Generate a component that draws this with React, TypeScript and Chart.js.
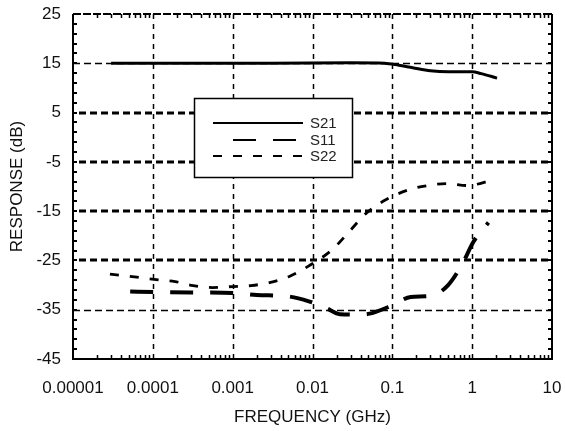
import React, { useEffect, useRef } from 'react';
import { Chart, registerables } from 'chart.js';

Chart.register(...registerables);

// Frequency axis (GHz): decade ticks and their printed labels
const freqTicks = [0.00001, 0.0001, 0.001, 0.01, 0.1, 1, 10];
const freqTickLabels = ['0.00001', '0.0001', '0.001', '0.01', '0.1', '1', '10'];
const freqMinorSteps = [2, 3, 4, 5, 6, 7, 8, 9];

// Response axis (dB)
const dbTicks = [25, 15, 5, -5, -15, -25, -35, -45];
const dbMin = -45;
const dbMax = 25;
const dbMinorStep = 2;
const dbBoldGrid = [5, -5, -15, -25];
const dbLightGrid = [15, -35];

const seriesNames = ['S21', 'S11', 'S22'];

// S21 – forward gain
const s21Freq = [0.00003, 0.0003, 0.003, 0.03, 0.08, 0.12, 0.18, 0.3, 0.5, 1.0, 1.3, 2.05];
const s21Db = [15.0, 15.0, 15.0, 15.1, 15.0, 14.6, 14.1, 13.5, 13.3, 13.3, 12.9, 12.0];

// S11 – input return loss
const s11Freq = [0.000052, 0.0001, 0.0003, 0.001, 0.002, 0.005, 0.009, 0.015, 0.022, 0.035, 0.052, 0.1, 0.17, 0.3, 0.5, 0.77, 1.03, 1.6];
const s11Db = [-31.3, -31.4, -31.5, -31.6, -32.0, -32.3, -33.3, -34.7, -35.9, -36.0, -35.8, -34.1, -32.4, -32.2, -30.0, -25.4, -21.3, -17.3];

// S22 – output return loss
const s22Freq = [0.000029, 0.000063, 0.00011, 0.00019, 0.00032, 0.00056, 0.001, 0.0017, 0.0029, 0.0052, 0.0088, 0.0177, 0.029, 0.048, 0.085, 0.165, 0.28, 0.49, 0.87, 1.8];
const s22Db = [-27.8, -28.4, -28.9, -29.3, -30.1, -30.5, -30.3, -30.1, -29.5, -28.2, -26.2, -22.8, -19.1, -15.3, -12.6, -10.6, -9.8, -9.4, -9.8, -8.7];

const FONT = "'Liberation Sans', Arial, Helvetica, sans-serif";

const pairs = (xs: number[], ys: number[]) => xs.map((x, i) => ({ x, y: ys[i] }));

// Dashed grid, boxed frame with inward minor ticks, and the boxed key
const framePlugin = {
  id: 'frame',
  beforeDatasetsDraw(chart: any) {
    const { ctx, chartArea } = chart;
    const { left, right, top, bottom } = chartArea;
    const xs = chart.scales.x;
    const ys = chart.scales.y;
    ctx.save();
    ctx.strokeStyle = '#000';
    ctx.lineCap = 'butt';

    // vertical decade lines
    ctx.lineWidth = 1.5;
    ctx.setLineDash([5, 5]);
    freqTicks.slice(1, -1).forEach((f) => {
      const px = Math.round(xs.getPixelForValue(f)) + 0.5;
      ctx.beginPath();
      ctx.moveTo(px, top);
      ctx.lineTo(px, bottom);
      ctx.stroke();
    });

    // light horizontal lines
    ctx.lineWidth = 1.3;
    ctx.setLineDash([7, 4]);
    dbLightGrid.forEach((v) => {
      const py = Math.round(ys.getPixelForValue(v)) + 0.5;
      ctx.beginPath();
      ctx.moveTo(left, py);
      ctx.lineTo(right, py);
      ctx.stroke();
    });

    // bold horizontal lines
    ctx.lineWidth = 3;
    ctx.setLineDash([7, 4]);
    dbBoldGrid.forEach((v) => {
      const py = Math.round(ys.getPixelForValue(v));
      ctx.beginPath();
      ctx.moveTo(left + 6, py);
      ctx.lineTo(right, py);
      ctx.stroke();
    });
    ctx.restore();
  },
  afterDatasetsDraw(chart: any) {
    const { ctx, chartArea } = chart;
    const { left, right, top, bottom } = chartArea;
    const xs = chart.scales.x;
    const ys = chart.scales.y;
    ctx.save();
    ctx.strokeStyle = '#000';
    ctx.lineCap = 'butt';

    // key box
    const bx = left + 121;
    const by = top + 84;
    const bw = 158;
    const bh = 79;
    ctx.fillStyle = '#fff';
    ctx.fillRect(bx, by, bw, bh);
    ctx.lineWidth = 1.5;
    ctx.setLineDash([]);
    ctx.strokeRect(bx + 0.5, by + 0.5, bw, bh);

    const sampleSpan = [[19, 109], [39, 104], [19, 109]];
    const rowY = [25, 42, 58];
    chart.data.datasets.forEach((ds: any, i: number) => {
      const y = by + rowY[i];
      ctx.lineWidth = 2;
      ctx.setLineDash(ds.borderDash || []);
      ctx.beginPath();
      ctx.moveTo(bx + sampleSpan[i][0], y);
      ctx.lineTo(bx + sampleSpan[i][1], y);
      ctx.stroke();
      ctx.setLineDash([]);
      ctx.fillStyle = '#222';
      ctx.font = `15px ${FONT}`;
      ctx.textBaseline = 'middle';
      ctx.textAlign = 'left';
      ctx.fillText(ds.label, bx + 116, y + 1);
    });

    // frame
    ctx.setLineDash([]);
    ctx.lineWidth = 2;
    ctx.beginPath();
    ctx.moveTo(left, top);
    ctx.lineTo(left, bottom);
    ctx.lineTo(right, bottom);
    ctx.lineTo(right, top);
    ctx.stroke();
    ctx.setLineDash([8, 2]);
    ctx.beginPath();
    ctx.moveTo(left, top);
    ctx.lineTo(right, top);
    ctx.stroke();
    ctx.setLineDash([]);

    // minor ticks on the response axis, both sides
    ctx.lineWidth = 2;
    for (let v = dbMin; v <= dbMax; v += dbMinorStep) {
      const py = Math.round(ys.getPixelForValue(v));
      ctx.beginPath();
      ctx.moveTo(left, py);
      ctx.lineTo(left + 4, py);
      ctx.moveTo(right, py);
      ctx.lineTo(right - 4, py);
      ctx.stroke();
    }

    // log minor ticks on the frequency axis, top and bottom
    ctx.lineWidth = 1.5;
    freqTicks.slice(0, -1).forEach((decade) => {
      freqMinorSteps.forEach((k) => {
        const px = Math.round(xs.getPixelForValue(decade * k)) + 0.5;
        ctx.beginPath();
        ctx.moveTo(px, bottom);
        ctx.lineTo(px, bottom - 4);
        ctx.moveTo(px, top);
        ctx.lineTo(px, top + 4);
        ctx.stroke();
      });
    });
    ctx.restore();
  },
};

export default function App() {
  const canvasRef = useRef<HTMLCanvasElement | null>(null);

  useEffect(() => {
    const canvas = canvasRef.current;
    if (!canvas) return;
    const chart = new Chart(canvas, {
      type: 'line',
      data: {
        datasets: [
          {
            label: seriesNames[0],
            data: pairs(s21Freq, s21Db),
            borderColor: '#000',
            borderWidth: 3,
            pointRadius: 0,
            cubicInterpolationMode: 'monotone',
            fill: false,
          },
          {
            label: seriesNames[1],
            data: pairs(s11Freq, s11Db),
            borderColor: '#000',
            borderWidth: 4,
            borderDash: [23, 17],
            pointRadius: 0,
            cubicInterpolationMode: 'monotone',
            fill: false,
          },
          {
            label: seriesNames[2],
            data: pairs(s22Freq, s22Db),
            borderColor: '#000',
            borderWidth: 2.8,
            borderDash: [9, 11],
            pointRadius: 0,
            cubicInterpolationMode: 'monotone',
            fill: false,
          },
        ],
      },
      options: {
        animation: false,
        responsive: false,
        layout: { padding: { top: 14, right: 13, left: 0, bottom: 0 } },
        plugins: {
          legend: { display: false },
          tooltip: { enabled: false },
        },
        scales: {
          x: {
            type: 'logarithmic',
            min: freqTicks[0],
            max: freqTicks[freqTicks.length - 1],
            grid: { display: false, drawTicks: false },
            border: { display: false },
            afterBuildTicks: (scale: any) => {
              scale.ticks = freqTicks.map((value) => ({ value }));
            },
            afterFit: (scale: any) => {
              scale.height = 72;
              scale.paddingLeft = 0;
              scale.paddingRight = 0;
            },
            ticks: {
              autoSkip: false,
              maxRotation: 0,
              padding: 19,
              color: '#111',
              font: { family: FONT, size: 17 },
              callback: (value: any) => {
                const i = freqTicks.indexOf(Number(value));
                return i >= 0 ? freqTickLabels[i] : '';
              },
            },
            title: {
              display: true,
              text: 'FREQUENCY (GHz)',
              color: '#111',
              font: { family: FONT, size: 17 },
              padding: { top: 0, bottom: 3 },
            },
          },
          y: {
            type: 'linear',
            min: dbMin,
            max: dbMax,
            grid: { display: false, drawTicks: false },
            border: { display: false },
            afterBuildTicks: (scale: any) => {
              scale.ticks = dbTicks.map((value) => ({ value }));
            },
            afterFit: (scale: any) => {
              scale.width = 73;
              scale.paddingTop = 0;
              scale.paddingBottom = 0;
            },
            ticks: {
              padding: 12,
              color: '#111',
              font: { family: FONT, size: 17 },
            },
            title: {
              display: true,
              text: 'RESPONSE (dB)',
              color: '#111',
              font: { family: FONT, size: 17 },
              padding: { top: 7, bottom: 0 },
            },
          },
        },
      },
      plugins: [framePlugin],
    } as any);
    return () => chart.destroy();
  }, []);

  return (
    <div style={{ position: 'fixed', left: 0, top: 0, width: 565, height: 431, background: '#fff' }}>
      <canvas ref={canvasRef} width={565} height={431} />
    </div>
  );
}
